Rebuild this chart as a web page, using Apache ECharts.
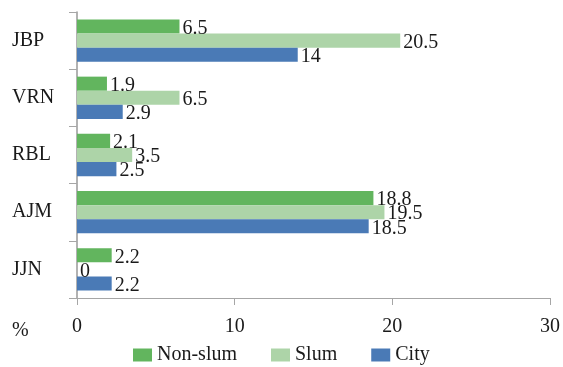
<!DOCTYPE html>
<html>
<head>
<meta charset="utf-8">
<script src="https://cdn.jsdelivr.net/npm/echarts@6/dist/echarts.min.js"></script>
<style>
  html, body { margin: 0; padding: 0; background: #fff; }
  #chart { width: 563px; height: 367px; }
</style>
</head>
<body>
<div id="chart"></div>
<script>
// Districts, top to bottom
const categories = ['JBP', 'VRN', 'RBL', 'AJM', 'JJN'];
const nonSlum = [6.5, 1.9, 2.1, 18.8, 2.2];
const slum = [20.5, 6.5, 3.5, 19.5, 0];
const city = [14, 2.9, 2.5, 18.5, 2.2];
const xTicks = { min: 0, max: 30, interval: 10 };

const FONT = '"Liberation Serif", "DejaVu Serif", serif';
const AXIS_GRAY = '#a6a6a6';
const INK = '#1a1a1a';

function barSeries(name, data, color) {
  return {
    name: name,
    type: 'bar',
    data: data,
    barGap: '0%',
    barCategoryGap: '26%',
    itemStyle: { color: color },
    label: {
      show: true,
      position: 'right',
      distance: 3,
      offset: [0, 2],
      color: INK,
      fontFamily: FONT,
      fontSize: 20
    }
  };
}

const chart = echarts.init(document.getElementById('chart'), null, { renderer: 'canvas' });
chart.setOption({
  animation: false,
  backgroundColor: '#fff',
  textStyle: { fontFamily: FONT },
  grid: { left: 77, right: 12, top: 12, bottom: 69, containLabel: false },
  legend: {
    top: 345,
    left: 133,
    padding: 0,
    itemWidth: 19,
    itemHeight: 13,
    itemGap: 34,
    icon: 'rect',
    textStyle: { fontFamily: FONT, fontSize: 20, color: INK },
    data: ['Non-slum', 'Slum', 'City']
  },
  xAxis: {
    type: 'value',
    min: xTicks.min,
    max: xTicks.max,
    interval: xTicks.interval,
    axisLine: { show: true, lineStyle: { color: AXIS_GRAY, width: 1 } },
    axisTick: { show: true, length: 7, lineStyle: { color: AXIS_GRAY } },
    splitLine: { show: false },
    axisLabel: { fontFamily: FONT, fontSize: 20, color: INK, margin: 19 }
  },
  yAxis: {
    type: 'category',
    inverse: true,
    data: categories,
    axisLine: { show: true, lineStyle: { color: '#999999', width: 1.5 } },
    axisTick: { show: true, length: 8, alignWithLabel: false, lineStyle: { color: AXIS_GRAY } },
    axisLabel: { fontFamily: FONT, fontSize: 20, color: INK, margin: 65, align: 'left' }
  },
  graphic: [{
    type: 'text',
    left: 12,
    top: 321,
    style: { text: '%', font: '20px ' + FONT, fill: INK }
  }],
  series: [
    barSeries('Non-slum', nonSlum, '#62b55e'),
    barSeries('Slum', slum, '#add4a8'),
    barSeries('City', city, '#4a7ab6')
  ]
});
</script>
</body>
</html>
